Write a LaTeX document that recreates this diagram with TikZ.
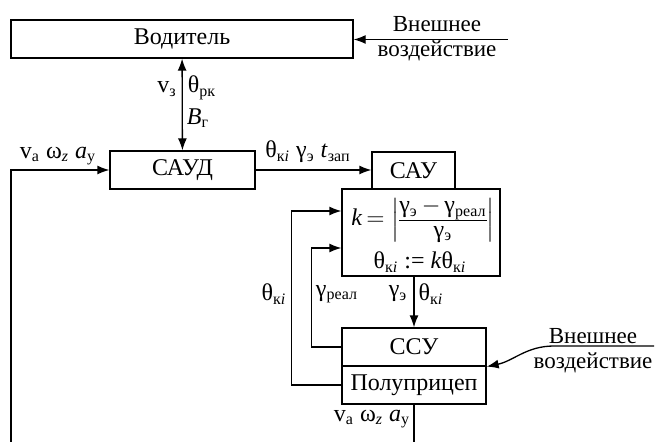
\documentclass[tikz,border=0pt]{standalone}
\usepackage{amsmath}
\usepackage{fontspec}
\setmainfont{Liberation Serif}
\usetikzlibrary{arrows.meta, positioning, calc}
\newcommand{\sig}[2]{#1$_{\text{#2}}$}
\tikzset{
  blockbox/.style={
    draw, line width=0.65pt, inner sep=0pt, align=center,
    font=\rmfamily\fontsize{12}{14}\selectfont
  },
  sigarrow/.style={
    -{Latex[length=6pt,width=4.5pt]}, line width=0.65pt
  },
  sigboth/.style={
    {Latex[length=6pt,width=4.5pt]}-{Latex[length=6pt,width=4.5pt]},
    line width=0.65pt
  },
  sigline/.style={line width=0.65pt},
  siglabel/.style={font=\rmfamily\fontsize{12}{14}\selectfont, inner sep=1pt},
  extlabel/.style={font=\rmfamily\fontsize{11.5}{13}\selectfont, inner sep=1pt},
}

\begin{document}
\begin{tikzpicture}[x=0.5pt, y=-0.5pt]
  \useasboundingbox (0,0) rectangle (656,442);

  % Blocks
  \node[blockbox, minimum width=171pt, minimum height=19pt] (driver) at (182,39)
    {Водитель};
  \node[blockbox, minimum width=72.5pt, minimum height=19pt] (saud) at (182.5,170)
    {САУД};
  \node[blockbox, minimum width=41.5pt, minimum height=18.5pt] (sau) at (413.5,170.5)
    {САУ};
  \node[blockbox, minimum width=79pt, minimum height=43.5pt] (kbox) at (421,232.5) {};
  \node[siglabel] (kform) at (423,220)
    {\renewcommand\arraystretch{0.85}%
     \textit{k}\,$=\Bigl|$\begin{tabular}{@{}c@{}}
       \sig{γ}{э}\,$-$\,\sig{γ}{реал}\\\hline
       \sig{γ}{э}
     \end{tabular}$\Bigr|$};
  \node[siglabel] (kupd) at (420,262)
    {\sig{θ}{к\textit{i}} := \textit{k}\sig{θ}{к\textit{i}}};
  \node[blockbox, minimum width=72pt, minimum height=19pt] (ssu) at (414,347)
    {ССУ};
  \node[blockbox, minimum width=72pt, minimum height=19pt] (trailer) at (414,385)
    {Полуприцеп};

  % Connectors
  \draw[sigboth] (driver) -- (saud);
  \draw[sigarrow] (saud.east) -- (saud.east -| sau.west);
  \draw[sigarrow] (ssu.north |- kbox.south) -- (ssu.north);
  \draw[sigarrow] (ssu.west) -- ++(-15pt,0) |- ([yshift=-7.75pt]kbox.west);
  \draw[sigarrow] (trailer.west) -- ++(-25pt,0) |- ([yshift=10.75pt]kbox.west);

  % Outer loop
  \coordinate (loopL) at (11,442);
  \draw[sigarrow] (loopL) |- (saud.west);
  \draw[sigline] (trailer.south) -- (trailer.south |- loopL);

  % External inputs
  \coordinate (ext1) at (508,39.5);
  \draw[sigarrow] (ext1) -- (ext1 -| driver.east);
  \node[extlabel] (ext1top) at (437,24) {Внешнее};
  \node[extlabel] (ext1bot) at (437,51) {воздействие};
  \coordinate (ext2) at (654,346);
  \draw[sigarrow] (ext2) -- ++(-100,0) to[out=180, in=12] (ssu.south east);
  \node[extlabel] (ext2top) at (593,336) {Внешнее};
  \node[extlabel] (ext2bot) at (593,363) {воздействие};

  % Signal labels
  \node[siglabel] (lvz) at (167,89) {\sig{v}{з}};
  \node[siglabel] (lthrk) at (202,88) {\sig{θ}{рк}};
  \node[siglabel] (lbg) at (198,118) {\sig{\textit{B}}{г}};
  \node[siglabel] (lin) at (58,156) {\sig{v}{a} \sig{ω}{\textit{z}} \sig{\textit{a}}{у}};
  \node[siglabel] (lout) at (308,152) {\sig{θ}{к\textit{i}} \sig{γ}{э} \sig{\textit{t}}{зап}};
  \node[siglabel] (lthki) at (274,294) {\sig{θ}{к\textit{i}}};
  \node[siglabel] (lgreal) at (337,294) {\sig{γ}{реал}};
  \node[siglabel] (lge) at (398,294) {\sig{γ}{э}};
  \node[siglabel] (lthki2) at (431,294) {\sig{θ}{к\textit{i}}};
  \node[siglabel] (lbot) at (372,419) {\sig{v}{a} \sig{ω}{\textit{z}} \sig{\textit{a}}{у}};
\end{tikzpicture}
\end{document}
